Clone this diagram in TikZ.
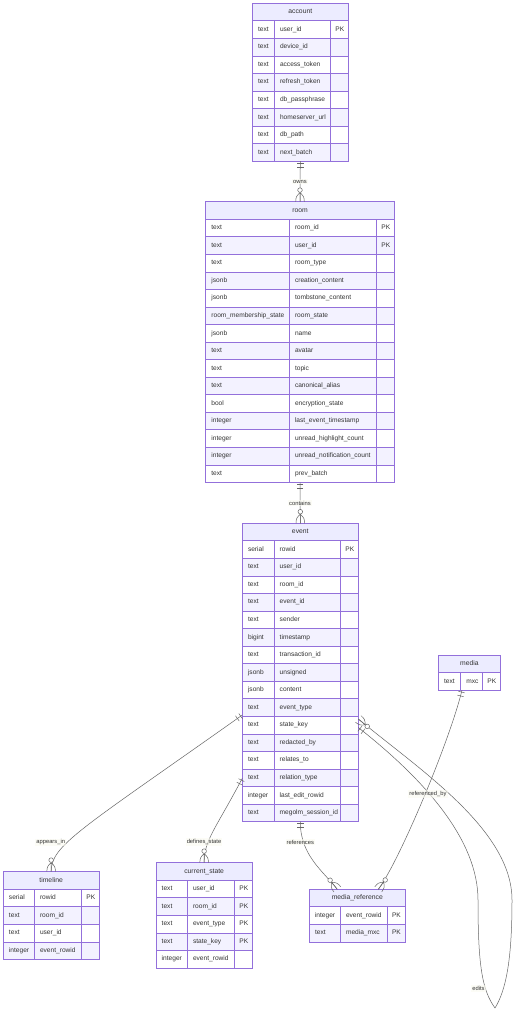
\documentclass[tikz,border=0pt]{standalone}
\usepackage{fontspec}
\setmainfont{Liberation Sans}
\usetikzlibrary{calc}
\definecolor{bord}{HTML}{9370DB}
\definecolor{hdrfill}{HTML}{ECECFF}
\definecolor{rowfill}{HTML}{F3F2FF}
\definecolor{ink}{HTML}{333333}
\definecolor{lnk}{HTML}{666666}
\definecolor{lblbg}{HTML}{FAFAF0}
\tikzset{
  ebox/.style={draw=bord, line width=0.8pt, inner sep=0pt, outer sep=0pt, rectangle},
  gridline/.style={draw=bord, line width=0.8pt},
  cell/.style={anchor=west, inner sep=0pt, text=ink, font=\fontsize{6.6}{7}\selectfont, text height=4.8pt, text depth=1.4pt},
  ttl/.style={inner sep=0pt, text=ink, font=\fontsize{6.8}{7}\selectfont, text height=4.8pt, text depth=1.4pt},
  conn/.style={draw=lnk, line width=0.5pt},
  lbl/.style={fill=lblbg, fill opacity=0.6, text opacity=1, text=ink, inner sep=1pt, font=\fontsize{5.8}{6}\selectfont},
  oneonly/.pic={\draw[conn] (2,-3.2)--(2,3.2) (6,-3.2)--(6,3.2);},
  zeromany/.pic={\draw[conn] (0,-4.3) .. controls (5,-4) .. (9.2,0) (0,4.3) .. controls (5,4) .. (9.2,0) (0,0)--(9.2,0);
                 \draw[conn,fill=white] (11.6,0) circle (2.3);},
}
% #1 id, #2 title, #3-#6 column x, #7 top y, #8 number of rows, #9 rows
\newcommand\entity[9]{%
  \fill[hdrfill] (#3,#7) rectangle (#6,#7+17.55);
  \node[ttl] (#1-h) at ({(#3+#6)/2},#7+8.775) {#2};
  \foreach[count=\i] \ty/\nm/\k in {#9}{%
    \pgfmathsetmacro\ya{#7+17.55*\i}%
    \pgfmathsetmacro\yb{\ya+17.55}%
    \pgfmathsetmacro\ym{\ya+8.775}%
    \ifodd\i\relax\else\fill[rowfill] (#3,\ya) rectangle (#6,\yb);\fi
    \draw[gridline] (#3,\ya) -- (#6,\ya);
    \node[cell] (#1-\i-t) at (#3+5.5,\ym) {\ty};
    \node[cell] (#1-\i-n) at (#4+5.5,\ym) {\nm};
    \node[cell] (#1-\i-k) at (#5+4.5,\ym) {\k};
  }
  \pgfmathsetmacro\yend{#7+17.55*(#8+1)}%
  \draw[gridline] (#4,#7+17.55) -- (#4,\yend) (#5,#7+17.55) -- (#5,\yend);
  \node[ebox, minimum width={(#6-#3)*1pt}, minimum height={(#8+1)*17.55pt}, anchor=north west] (#1) at (#3,#7) {};
}
\begin{document}
\begin{tikzpicture}[x=1pt,y=-1pt]
\fill[white] (0,0) rectangle (520,1024);
\useasboundingbox (0,0) rectangle (520,1024);

\entity{account}{account}{252.3}{274.3}{330.7}{348.3}{3.3}{8}{%
text/user\_id/PK, text/device\_id/{}, text/access\_token/{}, text/refresh\_token/{},
text/db\_passphrase/{}, text/homeserver\_url/{}, text/db\_path/{}, text/next\_batch/{}}

\entity{room}{room}{205.7}{289.3}{376.7}{394.3}{201.7}{15}{%
text/room\_id/PK, text/user\_id/PK, text/room\_type/{}, jsonb/creation\_content/{},
jsonb/tombstone\_content/{}, room\_membership\_state/room\_state/{}, jsonb/name/{},
text/avatar/{}, text/topic/{}, text/canonical\_alias/{}, bool/encryption\_state/{},
integer/last\_event\_timestamp/{}, integer/unread\_highlight\_count/{},
integer/unread\_notification\_count/{}, text/prev\_batch/{}}

\entity{event}{event}{242.3}{274}{340.7}{358.3}{523.3}{16}{%
serial/rowid/PK, text/user\_id/{}, text/room\_id/{}, text/event\_id/{}, text/sender/{},
bigint/timestamp/{}, text/transaction\_id/{}, jsonb/unsigned/{}, jsonb/content/{},
text/event\_type/{}, text/state\_key/{}, text/redacted\_by/{}, text/relates\_to/{},
text/relation\_type/{}, integer/last\_edit\_rowid/{}, text/megolm\_session\_id/{}}

\entity{media}{media}{438.3}{460.7}{482.7}{500.7}{655}{1}{text/mxc/PK}

\entity{timeline}{timeline}{3.3}{34.3}{81.7}{99}{871.7}{4}{%
serial/rowid/PK, text/room\_id/{}, text/user\_id/{}, integer/event\_rowid/{}}

\entity{current_state}{current\_state}{156}{187.3}{234.7}{252.3}{862.7}{5}{%
text/user\_id/PK, text/room\_id/PK, text/event\_type/PK, text/state\_key/PK, integer/event\_rowid/{}}

\entity{media_reference}{media\_reference}{309.3}{340.3}{387.3}{405.3}{889.3}{2}{%
integer/event\_rowid/PK, text/media\_mxc/PK}

% connector end points
\coordinate (ai-s) at ($(event.north west)+(0,191.7)$);
\coordinate (ds-s) at ($(event.north west)+(0,255)$);
\coordinate (rf-e) at ($(media_reference.north west)+(28,0)$);
\coordinate (rb-s) at ($(media.south)+(-7.5,0)$);
\coordinate (rb-e) at ($(media_reference.north west)+(69,0)$);
\coordinate (ed-o) at ($(event.north east)+(0,195.7)$);
\coordinate (ed-i) at ($(event.north east)+(0,204.2)$);
\coordinate (ed-b) at (495,1008);

% connectors
\draw[conn] (account.south) -- (room.north);
\draw[conn] (room.south) -- (event.north);
\draw[conn] (ai-s) .. controls (80,830) and (51.15,845) .. (timeline.north);
\draw[conn] (ds-s) .. controls (215,830) and (204.15,840) .. (current_state.north);
\draw[conn] (event.south) .. controls (300.3,855) and (322,870) .. (rf-e);
\draw[conn] (rb-s) .. controls (450,740) and (400,860) .. (rb-e);
\draw[conn] (ed-o) .. controls (420,770) and (512,830) .. (512,900) .. controls (512,960) and (506,990) .. (ed-b);
\draw[conn] (ed-i) .. controls (425,780) and (478,840) .. (478,900) .. controls (478,965) and (482,990) .. (ed-b);

% markers
\pic[rotate=-90] at (account.south) {oneonly};
\pic[rotate=90] at (room.north) {zeromany};
\pic[rotate=-90] at (room.south) {oneonly};
\pic[rotate=90] at (event.north) {zeromany};
\pic[rotate=-144.6] at (ai-s) {oneonly};
\pic[rotate=90] at (timeline.north) {zeromany};
\pic[rotate=-115.7] at (ds-s) {oneonly};
\pic[rotate=90] at (current_state.north) {zeromany};
\pic[rotate=-90] at (event.south) {oneonly};
\pic[rotate=128.4] at (rf-e) {zeromany};
\pic[rotate=-103.7] at (rb-s) {oneonly};
\pic[rotate=53.5] at (rb-e) {zeromany};
\pic[rotate=-39.6] at (ed-o) {zeromany};
\pic[rotate=-38.2] at (ed-i) {oneonly};

% labels
\node[lbl] (l-owns) at (300,181.5) {owns};
\node[lbl] (l-contains) at (300,503) {contains};
\node[lbl] (l-appears) at (50.7,842.3) {appears\_in};
\node[lbl] (l-defines) at (204,842) {defines\_state};
\node[lbl] (l-refs) at (300.3,842.3) {references};
\node[lbl] (l-refby) at (428,794) {referenced\_by};
\node[lbl] (l-edits) at (478.5,988.5) {edits};
\end{tikzpicture}
\end{document}
